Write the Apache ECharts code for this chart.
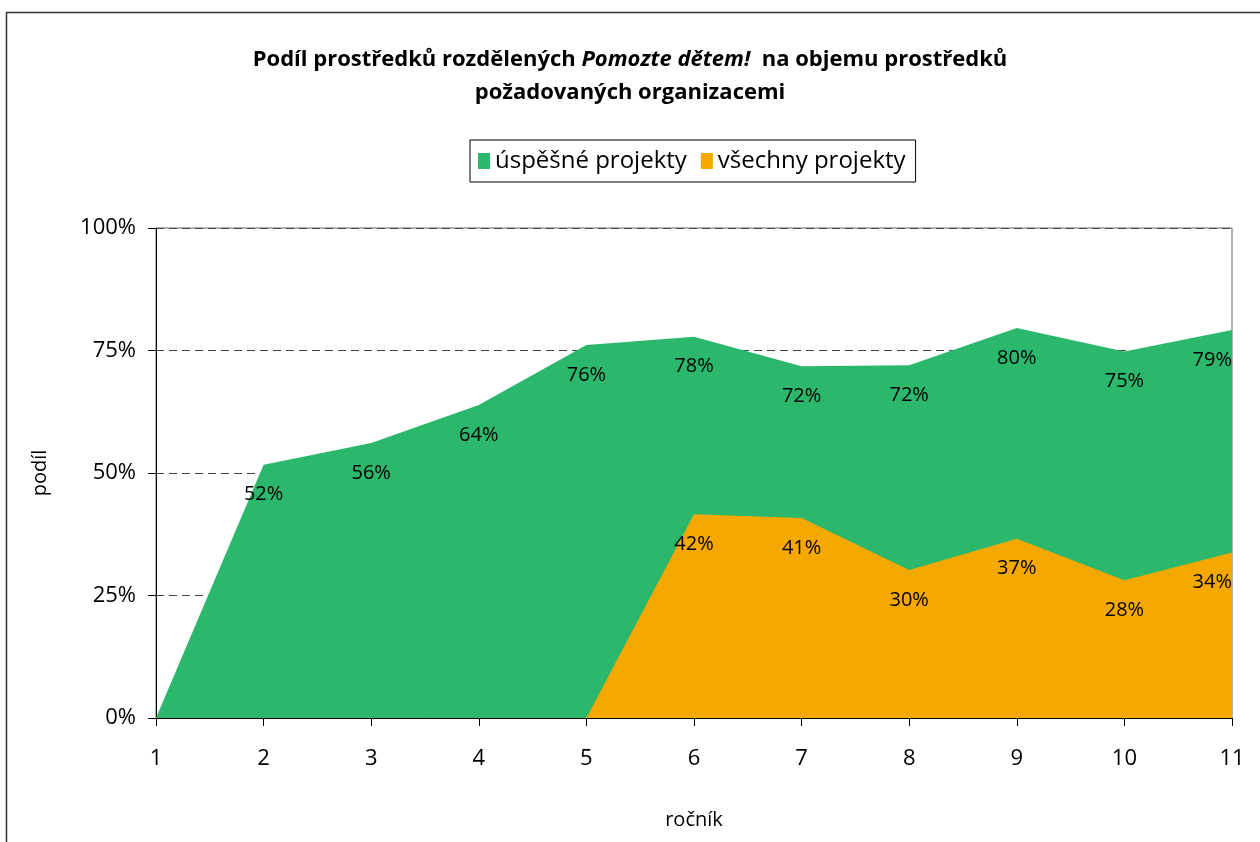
<!DOCTYPE html>
<html>
<head>
<meta charset="utf-8">
<script src="https://cdn.jsdelivr.net/npm/echarts@6/dist/echarts.min.js"></script>
<style>
html,body{margin:0;padding:0;background:#fff;}
#chart{width:1260px;height:842px;}
</style>
</head>
<body>
<div id="chart"></div>
<script>
var years = ['1','2','3','4','5','6','7','8','9','10','11'];
// podíl - úspěšné projekty
var uspesne = [0, 0.517, 0.561, 0.639, 0.761, 0.778, 0.718, 0.720, 0.796, 0.748, 0.792];
// podíl - všechny projekty (od 5. ročníku)
var vsechny = [null, null, null, null, 0, 0.416, 0.408, 0.302, 0.366, 0.281, 0.338];
var yTicks = [0, 0.25, 0.5, 0.75, 1];

var fontF = "'Open Sans',sans-serif";
var plotRight = 1232;

function pct(p){
	var v = p.value;
	if(v === null || v === 0) return '';
	return Math.round(v*100) + '%';
}

var chart = echarts.init(document.getElementById('chart'));
var option = {
	animation:false,
	textStyle:{fontFamily:fontF},
	graphic:[{
		type:'rect',
		shape:{x:6.5, y:12.5, width:1300, height:900},
		style:{fill:'none', stroke:'#333', lineWidth:1.5},
		silent:true
	}],
	title:{
		left:'center',
		top:38,
		text:'{b|Podíl prostředků rozdělených }{i|Pomozte dětem!}{b|  na objemu prostředků}\n{b|požadovaných organizacemi}',
		textStyle:{
			rich:{
				b:{fontFamily:fontF, fontWeight:'bold', fontSize:22, color:'#000', lineHeight:33},
				i:{fontFamily:fontF, fontWeight:'bold', fontStyle:'italic', fontSize:22, color:'#000', lineHeight:33}
			}
		}
	},
	legend:{
		top:140,
		left:470,
		itemWidth:12,
		itemHeight:16,
		itemGap:14,
		padding:[9,10,9,8],
		borderColor:'#000',
		borderWidth:1,
		icon:'rect',
		textStyle:{fontFamily:fontF, fontSize:24, color:'#000'},
		data:['úspěšné projekty','všechny projekty']
	},
	grid:{
		left:156, right:28, top:228, bottom:124,
		show:true, borderColor:'#666', borderWidth:1
	},
	xAxis:{
		type:'category',
		boundaryGap:false,
		data:years,
		name:'ročník',
		nameLocation:'middle',
		nameGap:92,
		nameTextStyle:{fontFamily:fontF, fontSize:20, color:'#000'},
		axisLine:{lineStyle:{color:'#000', width:1}},
		axisTick:{length:8, lineStyle:{color:'#000'}},
		axisLabel:{fontFamily:fontF, fontSize:22, color:'#000', margin:30},
		splitLine:{show:false}
	},
	yAxis:{
		type:'value',
		min:yTicks[0],
		max:yTicks[yTicks.length-1],
		interval:0.25,
		name:'podíl',
		nameLocation:'middle',
		nameGap:106,
		nameTextStyle:{fontFamily:fontF, fontSize:20, color:'#000'},
		axisLine:{show:true, lineStyle:{color:'#000', width:1}},
		axisTick:{show:true, length:8, lineStyle:{color:'#000'}},
		axisLabel:{fontFamily:fontF, fontSize:22, color:'#000', margin:20,
			formatter:function(v){ return Math.round(v*100) + '%'; }},
		splitLine:{show:true, lineStyle:{color:'#444', type:[8,5], width:1}}
	},
	series:[
		{
			name:'úspěšné projekty',
			type:'line',
			data:uspesne,
			symbol:'circle',
			symbolSize:0,
			showSymbol:true,
			lineStyle:{width:0},
			itemStyle:{color:'#2BB86C'},
			areaStyle:{color:'#2BB86C', opacity:1},
			label:{show:true, position:'bottom', distance:20, formatter:pct,
				fontFamily:fontF, fontSize:20, color:'#000'},
			labelLayout:keepInside
		},
		{
			name:'všechny projekty',
			type:'line',
			data:vsechny,
			symbol:'circle',
			symbolSize:0,
			showSymbol:true,
			lineStyle:{width:0},
			itemStyle:{color:'#F5A800'},
			areaStyle:{color:'#F5A800', opacity:1},
			label:{show:true, position:'bottom', distance:20, formatter:pct,
				fontFamily:fontF, fontSize:20, color:'#000'},
			labelLayout:keepInside
		}
	]
};

// popisek posledniho bodu nesmi presahnout plochu grafu
function keepInside(p){
	var over = p.labelRect.x + p.labelRect.width - plotRight;
	if(over > 0) return {dx:-over};
	return {};
}

chart.setOption(option);
</script>
</body>
</html>
